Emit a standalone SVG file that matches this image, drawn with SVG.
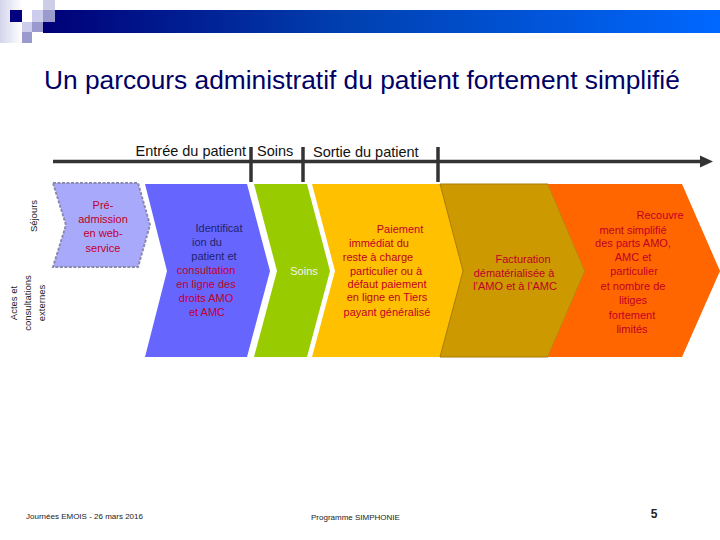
<svg xmlns="http://www.w3.org/2000/svg" width="720" height="540" viewBox="0 0 720 540">
<defs>
<linearGradient id="bar" x1="0" y1="0" x2="1" y2="0">
<stop offset="0" stop-color="#000078"/>
<stop offset="0.45" stop-color="#0040b0"/>
<stop offset="1" stop-color="#0068ff"/>
</linearGradient>
<linearGradient id="fade" x1="0" y1="0" x2="1" y2="0">
<stop offset="0" stop-color="#d4d4ec"/>
<stop offset="1" stop-color="#ffffff"/>
</linearGradient>
<style>
.title{font-family:"Liberation Sans",Arial,sans-serif;font-size:26.3px;fill:#000066}
.ax{font-family:"Liberation Sans",Arial,sans-serif;font-size:14.5px;fill:#111}
.t{font-family:"Liberation Sans",Arial,sans-serif;font-size:11px;text-anchor:middle}
.red{fill:#c00028}
.navy{fill:#22226a}
.side{font-family:"Liberation Sans",Arial,sans-serif;font-size:9.5px;fill:#222;text-anchor:middle}
.foot{font-family:"Liberation Sans",Arial,sans-serif;font-size:8px;fill:#222}
.tick{stroke:#333;stroke-width:3.5}
</style>
</defs>
<rect width="720" height="540" fill="#ffffff"/>
<g id="header">
<rect x="0" y="0" width="22" height="43" fill="url(#fade)"/>
<rect x="43" y="10" width="677" height="23" fill="url(#bar)"/>
<rect x="43" y="0" width="12" height="10" fill="#cdcde8"/>
<rect x="10" y="10" width="12" height="12" fill="#000080"/>
<rect x="32" y="10" width="11" height="12" fill="#ccccec"/>
<rect x="43" y="10" width="12" height="12" fill="#9a9acc"/>
<rect x="22" y="22" width="10" height="10" fill="#ccccec"/>
<rect x="32" y="22" width="11" height="10" fill="#9a9acc"/>
<rect x="22" y="32" width="10" height="11" fill="#9a9acc"/>
</g>
<text class="title" x="44" y="89">Un parcours administratif du patient fortement simplifié</text>
<g id="connectors">
<line x1="53" y1="161.5" x2="703" y2="161.5" stroke="#333" stroke-width="3.5"/>
<polygon points="700,155.5 713,161.5 700,167.5" fill="#333"/>
<line class="tick" x1="251" y1="147" x2="251" y2="182"/>
<line class="tick" x1="303" y1="147" x2="303" y2="182"/>
<line class="tick" x1="438" y1="147" x2="438" y2="182"/>
</g>
<g id="axis-labels">
<text class="ax" x="246" y="156" text-anchor="end">Entrée du patient</text>
<text class="ax" x="257" y="156">Soins</text>
<text class="ax" x="313" y="157">Sortie du patient</text>
</g>
<g id="side-labels">
<text class="side" transform="translate(37,216) rotate(-90)">Séjours</text>
<text class="side" transform="translate(17,303) rotate(-90)">Actes et</text>
<text class="side" transform="translate(31,303) rotate(-90)">consultations</text>
<text class="side" transform="translate(45,303) rotate(-90)">externes</text>
</g>
<g id="preadmission">
<polygon points="53,183 138,183 150,225 138,267 53,267 66,225" fill="#a9a9fb" stroke="#8a8ab0" stroke-width="2" stroke-dasharray="3,1.5"/>
<text class="t red"><tspan x="103" y="209">Pré-</tspan><tspan x="103" y="223">admission</tspan><tspan x="103" y="237">en web-</tspan><tspan x="103" y="252">service</tspan></text>
</g>
<g id="identification">
<polygon points="145,184 247,184 270,271 247,357 145,357 167,271" fill="#6666ff"/>
<text class="t navy"><tspan x="219" y="232">Identificat</tspan><tspan x="207" y="246">ion du</tspan><tspan x="214" y="260">patient et</tspan></text>
<text class="t red"><tspan x="206" y="274">consultation</tspan><tspan x="206" y="288">en ligne des</tspan><tspan x="206" y="302">droits AMO</tspan><tspan x="207" y="316">et AMC</tspan></text>
</g>
<g id="soins">
<polygon points="254,184 307,184 330,271 307,357 254,357 277,271" fill="#99cc00"/>
<text class="t" fill="#f2f2f2" x="304" y="275">Soins</text>
</g>
<g id="paiement">
<polygon points="312,184 440,184 463,271 440,357 312,357 335,271" fill="#ffc000"/>
<text class="t red"><tspan x="400" y="233">Paiement</tspan><tspan x="379" y="247">immédiat du</tspan><tspan x="378" y="261">reste à charge</tspan><tspan x="386" y="275">particulier ou  à</tspan><tspan x="387" y="288">défaut paiement</tspan><tspan x="387" y="301">en ligne en Tiers</tspan><tspan x="387" y="316">payant généralisé</tspan></text>
</g>
<g id="facturation">
<polygon points="440,184 548,184 585,271 548,357 440,357 463,271" fill="#cc9900" stroke="#a87a00" stroke-width="1"/>
<text class="t red"><tspan x="523" y="263">Facturation</tspan><tspan x="514" y="277">dématérialisée à</tspan><tspan x="515" y="290">l’AMO et à l’AMC</tspan></text>
</g>
<g id="recouvrement">
<polygon points="548,184 682,184 720,271 682,357 548,357 585,271" fill="#ff6600"/>
<text class="t red"><tspan x="660" y="219">Recouvre</tspan><tspan x="633" y="234">ment  simplifié</tspan><tspan x="633" y="247">des parts AMO,</tspan><tspan x="633" y="261">AMC et</tspan><tspan x="634" y="275">particulier</tspan><tspan x="633" y="290">et nombre de</tspan><tspan x="633" y="304">litiges</tspan><tspan x="632" y="319">fortement</tspan><tspan x="632" y="333">limités</tspan></text>
</g>
<g id="footer">
<text class="foot" x="26" y="519">Journées EMOIS - 26 mars 2016</text>
<text class="foot" x="311" y="520">Programme SIMPHONIE</text>
<text x="654" y="518" font-family="Liberation Sans, Arial, sans-serif" font-size="12" font-weight="bold" fill="#222" text-anchor="middle">5</text>
</g>
</svg>
